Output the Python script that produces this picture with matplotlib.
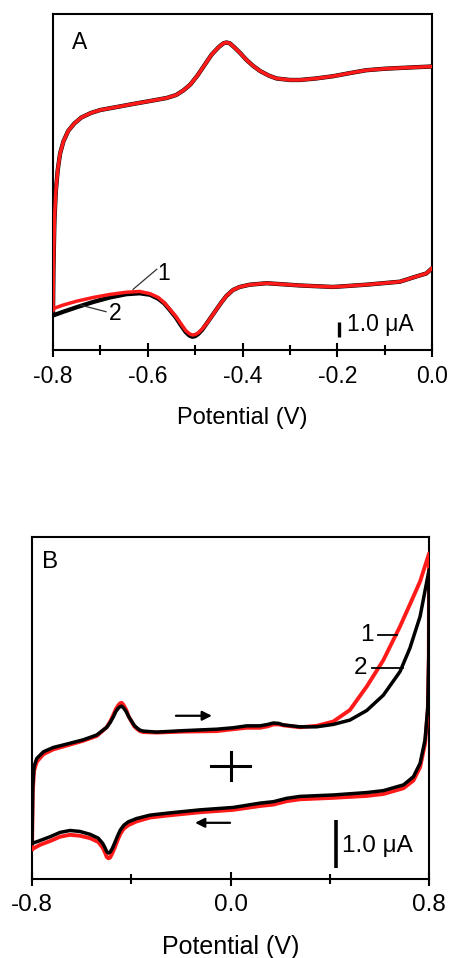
import numpy as np
import matplotlib.pyplot as plt

plt.rcParams['font.family'] = ['Liberation Sans', 'DejaVu Sans']

# ---- Panel A: potential (V) and current (uA) ----
a_fwd_E = [-0.800, -0.799, -0.797, -0.794, -0.790, -0.785, -0.778, -0.768, -0.755,
           -0.740, -0.720, -0.700, -0.665, -0.631, -0.595, -0.560, -0.540, -0.525,
           -0.510, -0.495, -0.480, -0.465, -0.450, -0.440, -0.434, -0.427, -0.418,
           -0.405, -0.392, -0.378, -0.363, -0.345, -0.328, -0.300, -0.279, -0.245,
           -0.209, -0.175, -0.139, -0.100, -0.068, -0.035, 0.000]
a_fwd_I = [2.6, 5.5, 8.6, 10.6, 12.0, 13.1, 13.9, 14.6, 15.1,
           15.5, 15.8, 16.0, 16.2, 16.4, 16.6, 16.8, 17.0, 17.3,
           17.7, 18.3, 19.0, 19.7, 20.2, 20.45, 20.5, 20.45, 20.2,
           19.8, 19.35, 18.95, 18.6, 18.3, 18.1, 18.0, 18.0, 18.1,
           18.25, 18.45, 18.65, 18.75, 18.8, 18.85, 18.9]

a_rev_E = [0.000, -0.012, -0.033, -0.068, -0.139, -0.209, -0.279, -0.349, -0.385,
           -0.406, -0.420, -0.434, -0.445, -0.455, -0.466, -0.476, -0.485, -0.493,
           -0.500, -0.506, -0.512, -0.520, -0.530, -0.541, -0.553, -0.565, -0.578,
           -0.595, -0.617, -0.645, -0.680, -0.715, -0.750, -0.778, -0.800]
a_rev_I1 = [5.45, 5.1, 4.9, 4.55, 4.35, 4.2, 4.3, 4.45, 4.35,
            4.2, 4.0, 3.6, 3.15, 2.7, 2.2, 1.75, 1.4, 1.15,
            1.02, 1.0, 1.08, 1.3, 1.75, 2.25, 2.7, 3.15, 3.5,
            3.75, 3.9, 3.85, 3.7, 3.5, 3.25, 3.0, 2.75]
a_rev_I2 = [5.45, 5.1, 4.9, 4.55, 4.35, 4.2, 4.3, 4.45, 4.35,
            4.2, 4.0, 3.6, 3.15, 2.7, 2.2, 1.75, 1.35, 1.08,
            0.92, 0.88, 0.96, 1.2, 1.65, 2.18, 2.65, 3.1, 3.42,
            3.68, 3.78, 3.72, 3.5, 3.2, 2.85, 2.55, 2.3]

# ---- Panel B ----
b_fwd_E = [-0.800, -0.797, -0.792, -0.781, -0.754, -0.714, -0.660, -0.593, -0.539,
           -0.499, -0.485, -0.472, -0.462, -0.452, -0.445, -0.439, -0.432, -0.421,
           -0.410, -0.398, -0.388, -0.378, -0.365, -0.351, -0.298,
           -0.190, -0.056, 0.011, 0.065, 0.119, 0.150, 0.173, 0.195, 0.213, 0.280, 0.347,
           0.414, 0.481, 0.549, 0.616, 0.683, 0.723, 0.764, 0.800]
b_fwd_I2 = [0.74, 1.92, 2.34, 2.51, 2.65, 2.74, 2.81, 2.90, 3.00,
            3.16, 3.26, 3.38, 3.49, 3.56, 3.59, 3.60, 3.57, 3.49,
            3.38, 3.28, 3.20, 3.15, 3.10, 3.08, 3.06,
            3.09, 3.12, 3.15, 3.19, 3.19, 3.22, 3.25, 3.24, 3.21, 3.17, 3.17,
            3.22, 3.31, 3.51, 3.83, 4.32, 4.81, 5.47, 6.44]
b_fwd_I1 = [0.62, 1.80, 2.25, 2.44, 2.60, 2.70, 2.78, 2.88, 2.98,
            3.16, 3.28, 3.42, 3.54, 3.62, 3.66, 3.67, 3.63, 3.53,
            3.38, 3.27, 3.18, 3.13, 3.08, 3.06, 3.05,
            3.07, 3.08, 3.12, 3.15, 3.15, 3.18, 3.22, 3.22, 3.20, 3.16, 3.19,
            3.28, 3.52, 4.01, 4.56, 5.26, 5.72, 6.20, 6.78]

b_rev_E = [0.800, 0.799, 0.795, 0.784, 0.764, 0.737, 0.697, 0.616, 0.549,
           0.414, 0.280, 0.226, 0.173, 0.119, 0.011, -0.123, -0.257, -0.324,
           -0.378, -0.412, -0.430, -0.444, -0.455, -0.466, -0.477, -0.485, -0.492,
           -0.499, -0.506, -0.515, -0.533, -0.566,
           -0.607, -0.647, -0.687, -0.727, -0.768, -0.800]
b_rev_I2 = [6.44, 4.70, 3.59, 2.90, 2.41, 2.13, 1.96, 1.84, 1.80,
            1.75, 1.72, 1.68, 1.61, 1.58, 1.49, 1.44, 1.37, 1.33,
            1.26, 1.19, 1.12, 1.02, 0.90, 0.76, 0.63, 0.56, 0.54,
            0.57, 0.65, 0.74, 0.85, 0.93,
            0.99, 1.01, 0.97, 0.88, 0.80, 0.74]
b_rev_I1 = [6.78, 4.60, 3.50, 2.82, 2.33, 2.05, 1.89, 1.77, 1.73,
            1.69, 1.66, 1.62, 1.55, 1.52, 1.44, 1.39, 1.32, 1.28,
            1.20, 1.12, 1.05, 0.94, 0.81, 0.66, 0.53, 0.45, 0.43,
            0.46, 0.55, 0.65, 0.77, 0.85,
            0.90, 0.92, 0.88, 0.79, 0.71, 0.62]

RED = '#ff1a1a'
LW = 2.5

fig = plt.figure(figsize=(4.51, 9.58), dpi=100)
axA = fig.add_axes([0.1175, 0.6347, 0.8404, 0.3507])
axB = fig.add_axes([0.0710, 0.0825, 0.8803, 0.3570])

# panel A: red on top; the two branches meet at -0.8 only
axA.plot(a_rev_E + a_fwd_E[1:], a_rev_I2 + a_fwd_I[1:], color='black',
         lw=LW + 0.6, solid_joinstyle='round')
axA.plot(a_rev_E + a_fwd_E, a_rev_I1 + a_fwd_I, color=RED,
         lw=LW, solid_joinstyle='round')
axA.set_xlim(-0.8, 0.0)
axA.set_ylim(0, 22.4)
axA.set_xticks([-0.8, -0.6, -0.4, -0.2, 0.0])
axA.set_xticks([-0.7, -0.5, -0.3, -0.1], minor=True)
axA.set_xticklabels(['-0.8', '-0.6', '-0.4', '-0.2', '0.0'])

# panel B: black on top
axB.plot(b_fwd_E + b_rev_E, b_fwd_I1 + b_rev_I1, color=RED, lw=LW + 0.3,
         solid_joinstyle='round')
axB.plot(b_fwd_E + b_rev_E, b_fwd_I2 + b_rev_I2, color='black', lw=LW,
         solid_joinstyle='round')
axB.set_xlim(-0.8, 0.8)
axB.set_ylim(0, 7.125)
axB.set_xticks([-0.8, 0.0, 0.8])
axB.set_xticks([-0.4, 0.4], minor=True)
axB.set_xticklabels(['-0.8', '0.0', '0.8'])

for ax, fs in ((axA, 16.5), (axB, 17.5)):
    ax.set_yticks([])
    for s in ax.spines.values():
        s.set_linewidth(1.5)
        s.set_zorder(1)
    ax.tick_params(axis='x', which='major', direction='inout', length=9.5,
                   width=1.5, labelsize=fs, pad=6)
    ax.tick_params(axis='x', which='minor', direction='inout', length=6.5, width=1.5)
    ax.set_xlabel('Potential (V)', fontsize=fs + 0.5, labelpad=14)

# labels, scale bars and markers
axA.text(0.069, 0.914, 'A', transform=axA.transAxes, fontsize=16.5, ha='center', va='center')
axB.text(0.045, 0.927, 'B', transform=axB.transAxes, fontsize=17.5, ha='center', va='center')

axA.plot([-0.196, -0.196], [0.87, 1.87], color='black', lw=2.4, solid_capstyle='butt')
axA.text(-0.180, 1.72, '1.0 \u03bcA', fontsize=16.5, ha='left', va='center')
axB.plot([0.425, 0.425], [0.23, 1.23], color='black', lw=2.6, solid_capstyle='butt')
axB.text(0.450, 0.69, '1.0 \u03bcA', fontsize=17.5, ha='left', va='center')

# curve numbers in A
axA.plot([-0.581, -0.631], [5.38, 4.04], color='#333333', lw=0.9)
axA.text(-0.566, 5.07, '1', fontsize=16.5, ha='center', va='center')
axA.plot([-0.688, -0.743], [2.55, 3.0], color='#333333', lw=0.9)
axA.text(-0.669, 2.4, '2', fontsize=16.5, ha='center', va='center')

# curve numbers in B
axB.plot([0.594, 0.671], [5.08, 5.08], color='black', lw=1.3)
axB.text(0.550, 5.08, '1', fontsize=17.5, ha='center', va='center')
axB.plot([0.570, 0.695], [4.40, 4.40], color='black', lw=1.3)
axB.text(0.522, 4.40, '2', fontsize=17.5, ha='center', va='center')

# scan direction arrows and zero-current cross in B
axB.annotate('', xy=(-0.075, 3.40), xytext=(-0.220, 3.40),
             arrowprops=dict(arrowstyle='-|>', color='black', lw=1.6,
                             mutation_scale=14, shrinkA=0, shrinkB=0))
axB.annotate('', xy=(-0.143, 1.17), xytext=(-0.002, 1.17),
             arrowprops=dict(arrowstyle='-|>', color='black', lw=1.6,
                             mutation_scale=14, shrinkA=0, shrinkB=0))
axB.plot([-0.077, 0.077], [2.35, 2.35], color='black', lw=2.2)
axB.plot([0.0, 0.0], [2.06, 2.64], color='black', lw=2.2)

fig.savefig('out.png', dpi=100)
